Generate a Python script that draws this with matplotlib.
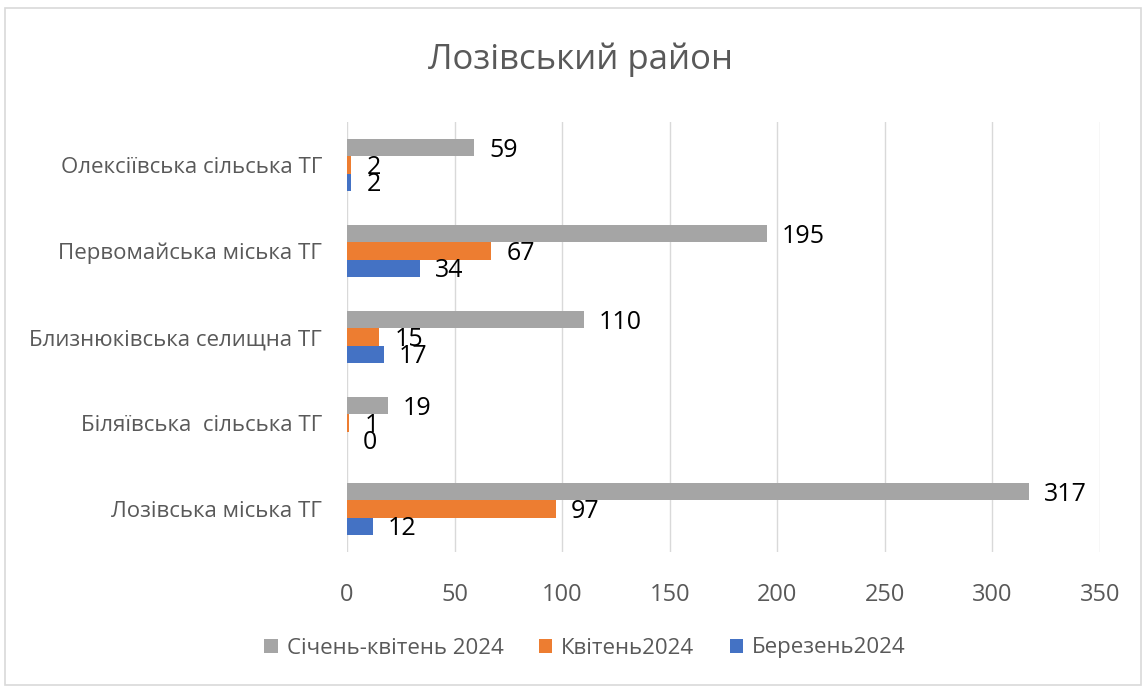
import matplotlib.pyplot as plt
import numpy as np
from matplotlib.patches import Rectangle

# data (bottom to top, as drawn)
categories = ['Лозівська міська ТГ', 'Біляївська  сільська ТГ', 'Близнюківська селищна ТГ',
              'Первомайська міська ТГ', 'Олексіївська сільська ТГ']
berezen = [12, 0, 17, 34, 2]
kviten = [97, 1, 15, 67, 2]
sichen_kviten = [317, 19, 110, 195, 59]

series_names = ['Січень-квітень 2024', 'Квітень2024', 'Березень2024']
colors = ['#A5A5A5', '#ED7D31', '#4472C4']
x_ticks = [0, 50, 100, 150, 200, 250, 300, 350]

plt.rcParams['font.family'] = ['Open Sans', 'DejaVu Sans']

fig = plt.figure(figsize=(11.43, 6.86), dpi=100)
ax = fig.add_axes([347 / 1143, 1 - 552 / 686, (1100 - 347) / 1143, 430 / 686])

# chart border
fig.patches.append(Rectangle((5 / 1143, 0.002), 1 - 7 / 1143, 1 - 8 / 686 - 0.002,
                             transform=fig.transFigure, fill=False,
                             edgecolor='#D9D9D9', linewidth=1.2))

y = np.arange(len(categories))
h = 0.2
# offsets: blue bottom, orange middle, gray top
groups = [(sichen_kviten, h), (kviten, 0), (berezen, -h)]
for (vals, off), name, col in zip(groups, series_names, colors):
    ax.barh(y + off, vals, height=h, color=col, label=name, zorder=3)
    for yy, v in zip(y + off, vals):
        ax.annotate(str(v), (v, yy), xytext=(11, -2), textcoords='offset points',
                    va='center', ha='left', fontsize=18, color='#000000')

ax.set_xlim(0, 350)
ax.set_ylim(-0.5, len(categories) - 0.5)
ax.set_xticks(x_ticks)
ax.set_yticks(y)
ax.set_yticklabels(categories)
ax.grid(axis='x', color='#D9D9D9', linewidth=1, zorder=0)
for s in ax.spines.values():
    s.set_visible(False)
ax.tick_params(axis='both', length=0, colors='#595959')
ax.tick_params(axis='x', labelsize=17, pad=22)
ax.tick_params(axis='y', labelsize=16, pad=18)

fig.text(580 / 1143, 1 - 60 / 686, 'Лозівський район', ha='center', va='center',
         fontsize=25, color='#595959')

handles, labels = ax.get_legend_handles_labels()
fig.legend(handles, labels, loc='center', bbox_to_anchor=(585 / 1143, 1 - 648 / 686),
           ncol=3, frameon=False, fontsize=16, labelcolor='#595959',
           handlelength=0.6, handleheight=0.6, handletextpad=0.4, columnspacing=1.6)

fig.savefig('out.png', dpi=100)
